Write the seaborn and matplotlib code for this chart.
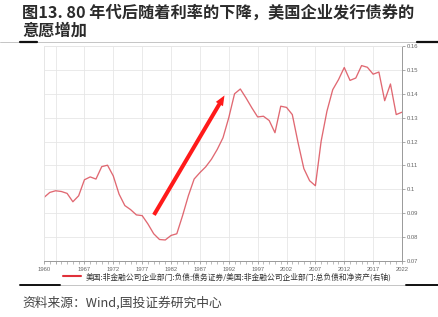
import matplotlib
matplotlib.use("Agg")
import matplotlib.pyplot as plt
import seaborn as sns
import pandas as pd
import numpy as np
from matplotlib.lines import Line2D
from matplotlib.ticker import FixedLocator, MultipleLocator, FuncFormatter

years = list(range(1960, 2023))
ratio = [0.0966, 0.0987, 0.0994, 0.0991, 0.0983, 0.0948, 0.0973, 0.1040, 0.1052, 0.1043,
         0.1095, 0.1101, 0.1056, 0.0980, 0.0932, 0.0915, 0.0893, 0.0890, 0.0855, 0.0814,
         0.0790, 0.0788, 0.0807, 0.0814, 0.0890, 0.0973, 0.1043, 0.1070, 0.1094, 0.1126,
         0.1167, 0.1216, 0.1300, 0.1400, 0.1420, 0.1382, 0.1341, 0.1303, 0.1306, 0.1288,
         0.1237, 0.1348, 0.1343, 0.1313, 0.1195, 0.1087, 0.1036, 0.1015, 0.1202, 0.1327,
         0.1417, 0.1459, 0.1510, 0.1456, 0.1466, 0.1518, 0.1511, 0.1482, 0.1491, 0.1371,
         0.1441, 0.1313, 0.1323]
xtick_years = [1960, 1962, 1967, 1972, 1977, 1982, 1987, 1992, 1997, 2002, 2007, 2012, 2017, 2022]
ytick_vals = [0.07, 0.08, 0.09, 0.10, 0.11, 0.12, 0.13, 0.14, 0.15, 0.16]
series_name = "美国:非金融公司企业部门:负债:债务证券/美国:非金融公司企业部门:总负债和净资产(右轴)"
title_l1 = "图13. 80 年代后随着利率的下降，美国企业发行债券的"
title_l2 = "意愿增加"
source = "资料来源：Wind,国投证券研究中心"
arrow_start = (1978.8, 0.0883)
arrow_end = (1991.5, 0.1403)

sns.set_theme(style="white")
plt.rcParams['font.family'] = ['Noto Sans CJK SC', 'DejaVu Sans']

df = pd.DataFrame({"year": years, "ratio": ratio})

fig = plt.figure(figsize=(4.38, 3.17), dpi=100)
ax = fig.add_axes([44/438, 1-261/317, (402-44)/438, (261-46)/317])

sns.lineplot(data=df, x="year", y="ratio", ax=ax, color="#d9434f", lw=0.95, alpha=0.8, legend=False)

ax.set_xlim(1960, 2022)
ax.set_ylim(0.07, 0.16)
ax.set_xlabel("")
ax.set_ylabel("")

ax.xaxis.set_major_locator(FixedLocator(xtick_years))
ax.set_xticklabels(["" if y == 1962 else str(y) for y in xtick_years])
ax.xaxis.set_minor_locator(MultipleLocator(1))
ax.yaxis.tick_right()
ax.yaxis.set_major_locator(FixedLocator(ytick_vals))
ax.yaxis.set_major_formatter(FuncFormatter(lambda v, p: f"{v:g}"))

ax.grid(True, which="major", color="#e6e6e6", lw=0.6)
ax.tick_params(axis="x", which="major", length=2.5, width=0.5, color="#888888",
               labelsize=4.2, labelcolor="#666666", pad=2, direction="out", bottom=True)
ax.tick_params(axis="x", which="minor", length=1.8, width=0.4, color="#888888", bottom=True)
ax.tick_params(axis="y", which="major", length=2.5, width=0.5, color="#888888",
               labelsize=4.2, labelcolor="#666666", pad=1, right=True, left=False)
for lab in ax.get_xticklabels() + ax.get_yticklabels():
    lab.set_family(['Liberation Sans', 'DejaVu Sans'])

for side in ["left", "top"]:
    ax.spines[side].set_color("#e6e6e6")
    ax.spines[side].set_linewidth(0.6)
for side in ["right", "bottom"]:
    ax.spines[side].set_color("#999999")
    ax.spines[side].set_linewidth(0.7)

ax.annotate("", xy=arrow_end, xytext=arrow_start,
            arrowprops=dict(arrowstyle="simple,head_length=0.6,head_width=0.5,tail_width=0.24",
                            color="#ff1a1a", lw=0))

handle = Line2D([], [], color="#e0303a", lw=1.5)
fig.legend([handle], [series_name], loc="center", bbox_to_anchor=(0.519, 1-277/317),
           frameon=False, fontsize=5.6, handlelength=2.4, handletextpad=0.6,
           labelcolor="#333333")

fig.text(22/438, 1-12.5/317, title_l1, fontsize=11.7, fontweight="bold", color="#2b2b2b",
         va="center", ha="left")
fig.text(22/438, 1-31/317, title_l2, fontsize=11.7, fontweight="bold", color="#2b2b2b",
         va="center", ha="left")
fig.text(22/438, 1-303/317, source, fontsize=9.2, color="#444444", va="center", ha="left")

# decorative rules
fig.add_artist(Line2D([0, 1], [1-42/317]*2, transform=fig.transFigure, color="#bbbbbb", lw=0.6))
fig.add_artist(Line2D([20/438, 37/438], [1-42/317]*2, transform=fig.transFigure, color="#111111", lw=1.6))
fig.add_artist(Line2D([417/438, 1], [1-42/317]*2, transform=fig.transFigure, color="#111111", lw=1.6))
fig.add_artist(Line2D([20/438, 1], [1-285/317]*2, transform=fig.transFigure, color="#bbbbbb", lw=0.6))
fig.add_artist(Line2D([20/438, 60/438], [1-285/317]*2, transform=fig.transFigure, color="#111111", lw=1.4))
fig.add_artist(Line2D([406/438, 1], [1-285/317]*2, transform=fig.transFigure, color="#111111", lw=1.4))

fig.savefig("out.png", dpi=100)
